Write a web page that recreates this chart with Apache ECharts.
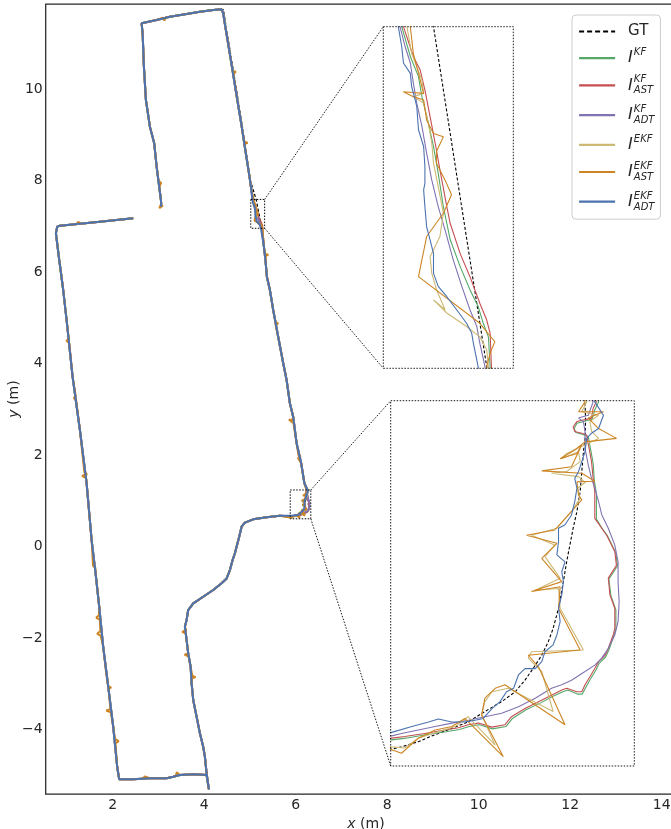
<!DOCTYPE html>
<html><head><meta charset="utf-8">
<script src="https://cdn.jsdelivr.net/npm/echarts@6/dist/echarts.min.js"></script>
<style>html,body{margin:0;padding:0;background:#fff}#c{width:671px;height:829px}</style>
</head><body><div id="c"></div><script>
// ---------- tick labels ----------
const X_TICKS = [2, 4, 6, 8, 10, 12, 14];
const Y_TICKS = [-4, -2, 0, 2, 4, 6, 8, 10];

// ---------- series names / legend ----------
const NAMES = ['GT', 'KF', 'KF_AST', 'KF_ADT', 'EKF', 'EKF_AST', 'EKF_ADT'];
const LABELS = {
  GT: '{g|GT}',
  KF: '{i|I}{p|KF}',
  KF_AST: '{i|I}{p0|KF}{b|AST}',
  KF_ADT: '{i|I}{p0|KF}{b|ADT}',
  EKF: '{i|I}{p|EKF}',
  EKF_AST: '{i|I}{p0|EKF}{b|AST}',
  EKF_ADT: '{i|I}{p0|EKF}{b|ADT}'
};
const COLORS = ['#000000', '#55A868', '#C44E52', '#8172B2', '#CCB974', '#CD8523', '#4C72B0'];

// ---------- trajectory (shared parts, metres) ----------
const BASE_A = [[3.054,7.432],[3.09,7.46],[3.03,7.41],[3.06,7.50],[3.054,7.578],[3.016,7.869],[2.960,8.306],[2.907,8.817],[2.813,9.180],[2.726,9.764],[2.682,10.492],[2.654,11.222],[2.632,11.440],[2.960,11.512],[3.250,11.585],[3.615,11.644],[3.906,11.694],[4.197,11.731],[4.380,11.747],[4.415,11.659],[4.461,11.366],[4.57,10.71],[4.70,9.91],[4.82,9.18],[4.91,8.599],[4.99,8.087],[5.03,7.80]];
const BASE_B = [[5.30,6.60],[5.34,6.25],[5.37,5.902],[5.436,5.611],[5.508,5.174],[5.617,4.590],[5.727,4.009],[5.801,3.644],[5.873,3.134],[5.945,2.842],[6.020,2.260],[6.12,1.823],[6.19,1.386]];
const BASE_C = [[5.655,0.678],[5.364,0.643],[5.071,0.599],[4.890,0.525],[4.817,0.437],[4.765,0.219],[4.708,0.000],[4.671,-0.144],[4.621,-0.291],[4.562,-0.511],[4.490,-0.693],[4.380,-0.800],[4.197,-0.946],[3.978,-1.093],[3.760,-1.237],[3.650,-1.384],[3.615,-1.603],[3.578,-1.749],[3.615,-2.039],[3.650,-2.330],[3.703,-2.623],[3.725,-2.986],[3.760,-3.350],[3.834,-3.716],[3.906,-4.079],[3.978,-4.372],[4.015,-4.590],[4.052,-4.953],[4.103,-5.303],[4.052,-4.990],[3.760,-4.975],[3.469,-4.990],[3.322,-5.027],[3.178,-5.062],[2.813,-5.062],[2.448,-5.084],[2.142,-5.084],[2.098,-4.809],[2.011,-3.934],[1.902,-3.060],[1.792,-2.186],[1.705,-1.311],[1.626,-0.581],[1.539,0.146],[1.430,1.386],[1.283,2.551],[1.123,3.716],[0.992,4.955],[0.918,5.611],[0.861,6.048],[0.831,6.267],[0.759,6.850],[0.787,6.995],[0.846,7.016],[1.720,7.104],[2.448,7.178]];
const GT_A = [[3.054,7.432],[3.054,7.578],[3.016,7.869],[2.960,8.306],[2.907,8.817],[2.813,9.180],[2.726,9.764],[2.682,10.492],[2.654,11.222],[2.632,11.440],[2.960,11.512],[3.250,11.585],[3.615,11.644],[3.906,11.694],[4.197,11.731],[4.42,11.74],[4.48,11.36],[4.59,10.7],[4.72,9.9],[4.84,9.15],[4.93,8.55],[5.01,8.0]];
const EKF_AST_A = [[3.054,7.432],[3.10,7.46],[3.02,7.40],[3.06,7.50],[3.054,7.578],[3.016,7.869],[3.06,7.95],[3.00,8.0],[2.960,8.306],[2.907,8.817],[2.813,9.180],[2.726,9.764],[2.682,10.492],[2.654,11.222],[2.632,11.440],[2.960,11.512],[3.10,11.56],[3.13,11.50],[3.16,11.57],[3.250,11.585],[3.615,11.644],[3.906,11.694],[4.197,11.731],[4.380,11.747],[4.415,11.659],[4.461,11.366],[4.57,10.71],[4.62,10.40],[4.69,10.38],[4.64,10.33],[4.70,9.91],[4.82,9.18],[4.87,8.85],[4.95,8.83],[4.88,8.80],[4.91,8.599],[4.99,8.087],[5.03,7.80]];
const EKF_AST_B = [[5.30,6.60],[5.33,6.40],[5.40,6.38],[5.34,6.35],[5.34,6.25],[5.37,5.902],[5.436,5.611],[5.508,5.174],[5.56,4.90],[5.62,4.88],[5.56,4.85],[5.617,4.590],[5.727,4.009],[5.801,3.644],[5.873,3.134],[5.945,2.842],[5.92,2.76],[5.85,2.78],[5.95,2.70],[6.020,2.260],[6.06,2.0],[6.11,1.97],[6.05,1.94],[6.12,1.823],[6.19,1.386]];
const EKF_AST_C = [[5.655,0.678],[5.364,0.643],[5.071,0.599],[4.890,0.525],[4.817,0.437],[4.765,0.219],[4.708,0.000],[4.671,-0.144],[4.621,-0.291],[4.562,-0.511],[4.490,-0.693],[4.380,-0.800],[4.197,-0.946],[3.978,-1.093],[3.760,-1.237],[3.650,-1.384],[3.615,-1.603],[3.578,-1.749],[3.60,-1.82],[3.52,-1.86],[3.60,-1.90],[3.615,-2.039],[3.650,-2.330],[3.57,-2.36],[3.66,-2.40],[3.703,-2.623],[3.74,-2.82],[3.81,-2.85],[3.73,-2.88],[3.725,-2.986],[3.760,-3.350],[3.834,-3.716],[3.906,-4.079],[3.978,-4.372],[4.015,-4.590],[4.052,-4.953],[4.103,-5.303],[4.052,-4.990],[3.760,-4.975],[3.469,-4.990],[3.40,-4.93],[3.38,-5.00],[3.322,-5.027],[3.178,-5.062],[2.813,-5.062],[2.70,-5.02],[2.66,-5.07],[2.448,-5.084],[2.142,-5.084],[2.098,-4.809],[2.06,-4.30],[2.13,-4.25],[2.05,-4.20],[2.011,-3.934],[1.96,-3.62],[1.86,-3.58],[1.95,-3.55],[1.91,-3.10],[1.97,-3.08],[1.90,-3.05],[1.85,-2.70],[1.792,-2.186],[1.74,-1.95],[1.66,-1.90],[1.73,-1.84],[1.72,-1.60],[1.64,-1.55],[1.70,-1.50],[1.705,-1.311],[1.626,-0.581],[1.62,-0.45],[1.57,-0.42],[1.61,-0.38],[1.539,0.146],[1.47,0.9],[1.430,1.386],[1.42,1.50],[1.33,1.55],[1.44,1.58],[1.38,1.63],[1.283,2.551],[1.20,3.2],[1.15,3.25],[1.19,3.3],[1.123,3.716],[1.05,4.45],[0.99,4.5],[1.04,4.55],[0.992,4.955],[0.918,5.611],[0.861,6.048],[0.831,6.267],[0.759,6.850],[0.787,6.995],[0.846,7.016],[1.2,7.05],[1.25,7.10],[1.3,7.06],[1.720,7.104],[2.448,7.178]];

// ---------- zoom region 1 (x 5.018..5.321, y 6.96..7.59) ----------
const GT_BOX1 = [[5.135,7.590],[5.259,6.963]];
const KF_BOX1 = [[5.061,7.590],[5.081,7.535],[5.100,7.498],[5.108,7.461],[5.123,7.412],[5.135,7.369],[5.146,7.320],[5.158,7.258],[5.174,7.197],[5.197,7.148],[5.220,7.105],[5.239,7.074],[5.251,7.043],[5.263,7.018],[5.267,6.963]];
const KF_AST_BOX1 = [[5.065,7.590],[5.088,7.535],[5.104,7.510],[5.115,7.473],[5.127,7.424],[5.139,7.375],[5.150,7.326],[5.166,7.258],[5.174,7.227],[5.197,7.172],[5.220,7.129],[5.243,7.080],[5.259,7.049],[5.267,7.025],[5.270,6.963]];
const KF_ADT_BOX1 = [[5.057,7.590],[5.069,7.553],[5.081,7.523],[5.088,7.486],[5.096,7.449],[5.108,7.406],[5.119,7.357],[5.131,7.307],[5.146,7.258],[5.162,7.215],[5.181,7.160],[5.201,7.111],[5.220,7.068],[5.236,7.037],[5.243,7.006],[5.255,6.963]];
const EKF_BOX1 = [[5.073,7.590],[5.084,7.541],[5.096,7.516],[5.108,7.492],[5.112,7.467],[5.088,7.461],[5.112,7.449],[5.123,7.412],[5.131,7.375],[5.135,7.338],[5.146,7.295],[5.158,7.246],[5.150,7.203],[5.135,7.178],[5.127,7.166],[5.131,7.135],[5.142,7.105],[5.162,7.068],[5.135,7.086],[5.166,7.062],[5.212,7.037],[5.243,7.018],[5.259,6.994],[5.263,6.963]];
const EKF_AST_BOX1 = [[5.081,7.590],[5.088,7.541],[5.100,7.504],[5.112,7.467],[5.065,7.470],[5.088,7.461],[5.112,7.455],[5.119,7.418],[5.135,7.393],[5.158,7.387],[5.142,7.360],[5.142,7.338],[5.162,7.307],[5.177,7.280],[5.158,7.246],[5.119,7.203],[5.100,7.129],[5.243,7.043],[5.278,7.009],[5.267,6.988],[5.259,6.963]];
const EKF_ADT_BOX1 = [[5.053,7.590],[5.061,7.553],[5.065,7.523],[5.081,7.504],[5.084,7.480],[5.096,7.443],[5.100,7.400],[5.112,7.369],[5.115,7.332],[5.115,7.301],[5.112,7.289],[5.115,7.258],[5.119,7.221],[5.127,7.197],[5.135,7.172],[5.135,7.135],[5.146,7.111],[5.166,7.092],[5.189,7.068],[5.212,7.043],[5.224,7.025],[5.228,7.006],[5.239,6.963]];

// ---------- zoom region 2 (x 5.88..6.33, y 0.61..1.24) ----------
const GT_BOX2 = [[6.239,1.238],[6.240,1.204],[6.239,1.175],[6.236,1.152],[6.233,1.118],[6.230,1.083],[6.224,1.049],[6.217,1.020],[6.211,0.991],[6.205,0.962],[6.199,0.928],[6.190,0.882],[6.180,0.847],[6.171,0.824],[6.159,0.801],[6.143,0.778],[6.128,0.758],[6.110,0.738],[6.085,0.721],[6.054,0.704],[6.023,0.686],[5.993,0.675],[5.962,0.664],[5.931,0.652],[5.900,0.643],[5.882,0.639]];
const KF_BOX2 = [[6.264,1.238],[6.257,1.224],[6.252,1.208],[6.224,1.201],[6.219,1.192],[6.222,1.185],[6.234,1.182],[6.245,1.178],[6.254,1.132],[6.256,1.103],[6.260,1.080],[6.260,1.036],[6.271,1.019],[6.281,1.006],[6.296,0.977],[6.299,0.955],[6.283,0.932],[6.287,0.903],[6.296,0.879],[6.296,0.846],[6.292,0.834],[6.283,0.810],[6.277,0.798],[6.265,0.787],[6.259,0.775],[6.249,0.760],[6.240,0.745],[6.234,0.734],[6.225,0.734],[6.207,0.741],[6.198,0.738],[6.179,0.730],[6.155,0.718],[6.130,0.707],[6.105,0.692],[6.093,0.678],[6.068,0.674],[6.044,0.681],[6.025,0.678],[6.007,0.673],[5.982,0.669],[5.945,0.664],[5.908,0.658],[5.882,0.655]];
const KF_AST_BOX2 = [[6.260,1.238],[6.254,1.227],[6.251,1.210],[6.224,1.204],[6.217,1.195],[6.220,1.187],[6.233,1.184],[6.242,1.181],[6.251,1.135],[6.254,1.106],[6.257,1.083],[6.257,1.037],[6.270,1.020],[6.279,1.008],[6.294,0.980],[6.297,0.956],[6.282,0.934],[6.285,0.905],[6.294,0.882],[6.294,0.847],[6.291,0.836],[6.282,0.813],[6.276,0.801],[6.264,0.790],[6.257,0.778],[6.248,0.764],[6.239,0.750],[6.233,0.738],[6.224,0.738],[6.205,0.744],[6.196,0.741],[6.177,0.732],[6.153,0.721],[6.128,0.709],[6.103,0.695],[6.091,0.681],[6.067,0.677],[6.042,0.684],[6.023,0.681],[6.005,0.676],[5.980,0.672],[5.943,0.666],[5.906,0.661],[5.882,0.658]];
const KF_ADT_BOX2 = [[6.254,1.238],[6.245,1.215],[6.233,1.212],[6.227,1.210],[6.236,1.204],[6.239,1.187],[6.239,1.158],[6.245,1.129],[6.251,1.106],[6.257,1.089],[6.264,1.066],[6.270,1.043],[6.282,1.020],[6.294,0.991],[6.300,0.962],[6.300,0.928],[6.302,0.893],[6.300,0.859],[6.294,0.836],[6.282,0.813],[6.270,0.796],[6.257,0.784],[6.239,0.773],[6.214,0.758],[6.196,0.750],[6.177,0.744],[6.147,0.727],[6.116,0.712],[6.085,0.701],[6.054,0.695],[6.023,0.689],[5.993,0.684],[5.962,0.678],[5.931,0.672],[5.900,0.666],[5.882,0.662]];
const EKF_BOX2 = [[6.242,1.238],[6.233,1.221],[6.264,1.215],[6.248,1.204],[6.251,1.187],[6.264,1.175],[6.239,1.164],[6.205,1.149],[6.195,1.140],[6.227,1.152],[6.230,1.135],[6.205,1.118],[6.177,1.115],[6.227,1.109],[6.239,1.099],[6.225,1.089],[6.230,1.072],[6.214,1.049],[6.187,1.020],[6.140,1.008],[6.183,0.991],[6.165,0.971],[6.193,0.934],[6.147,0.913],[6.190,0.916],[6.193,0.882],[6.236,0.810],[6.140,0.807],[6.134,0.796],[6.159,0.773],[6.180,0.704],[6.097,0.744],[6.067,0.738],[6.054,0.721],[6.048,0.698],[6.073,0.646],[6.023,0.695],[5.999,0.678],[5.968,0.669],[5.931,0.658],[5.906,0.641],[5.882,0.643]];
const EKF_AST_BOX2 = [[6.239,1.238],[6.227,1.221],[6.273,1.221],[6.245,1.210],[6.264,1.192],[6.297,1.175],[6.239,1.169],[6.220,1.155],[6.193,1.140],[6.224,1.149],[6.233,1.164],[6.214,1.126],[6.159,1.119],[6.233,1.115],[6.257,1.101],[6.224,1.100],[6.227,1.077],[6.233,1.069],[6.183,1.017],[6.131,1.008],[6.187,0.994],[6.159,0.968],[6.196,0.928],[6.140,0.911],[6.193,0.919],[6.190,0.882],[6.230,0.810],[6.134,0.801],[6.153,0.781],[6.202,0.681],[6.091,0.750],[6.073,0.744],[6.054,0.727],[6.048,0.698],[6.088,0.626],[6.017,0.692],[5.993,0.678],[5.962,0.672],[5.931,0.658],[5.900,0.632],[5.882,0.638]];
const EKF_ADT_BOX2 = [[6.257,1.238],[6.273,1.215],[6.264,1.192],[6.251,1.184],[6.242,1.175],[6.239,1.152],[6.233,1.135],[6.227,1.118],[6.220,1.106],[6.224,1.089],[6.220,1.066],[6.214,1.043],[6.202,1.026],[6.190,1.020],[6.190,0.997],[6.187,0.974],[6.202,0.962],[6.196,0.945],[6.199,0.928],[6.196,0.905],[6.190,0.882],[6.193,0.859],[6.187,0.836],[6.180,0.819],[6.165,0.807],[6.159,0.790],[6.147,0.778],[6.128,0.778],[6.116,0.767],[6.107,0.744],[6.094,0.738],[6.082,0.721],[6.067,0.709],[6.051,0.692],[6.036,0.689],[6.017,0.686],[5.993,0.686],[5.968,0.691],[5.950,0.686],[5.919,0.678],[5.882,0.668]];

const DATA = {
  GT: [...GT_A, ...GT_BOX1, ...BASE_B, ...GT_BOX2, ...BASE_C],
  KF: [...BASE_A, ...KF_BOX1, ...BASE_B, ...KF_BOX2, ...BASE_C],
  KF_AST: [...BASE_A, ...KF_AST_BOX1, ...BASE_B, ...KF_AST_BOX2, ...BASE_C],
  KF_ADT: [...BASE_A, ...KF_ADT_BOX1, ...BASE_B, ...KF_ADT_BOX2, ...BASE_C],
  EKF: [...BASE_A, ...EKF_BOX1, ...BASE_B, ...EKF_BOX2, ...BASE_C],
  EKF_AST: [...EKF_AST_A, ...EKF_AST_BOX1, ...EKF_AST_B, ...EKF_AST_BOX2, ...EKF_AST_C],
  EKF_ADT: [...BASE_A, ...EKF_ADT_BOX1, ...BASE_B, ...EKF_ADT_BOX2, ...BASE_C]
};

// ---------- layout ----------
const MAIN_X = [0.5355, 14.535], MAIN_Y = [-5.405, 11.862];
const BOX1_X = [5.018, 5.321], BOX1_Y = [6.960, 7.590];
const BOX2_X = [5.88, 6.33], BOX2_Y = [0.61, 1.24];
const MAIN_GRID = {left: 45.7, top: 4, width: 640.5, height: 790};
const INSET1 = {left: 383.3, top: 26.7, width: 130, height: 341.6};
const INSET2 = {left: 390.7, top: 400.7, width: 243.6, height: 365.3};
const FONT = 'DejaVu Sans';
const INK = '#262626';

const chart = echarts.init(document.getElementById('c'), null, {renderer: 'canvas'});
const minus = v => String(v).replace('-', '\u2212');

const series = [];
[0, 1, 2].forEach(g => {
  NAMES.forEach((n, i) => {
    const w = g === 0 ? (n === 'GT' ? 1.2 : 2.0) : 1.1;
    series.push({
      type: 'line', name: n, xAxisIndex: g, yAxisIndex: g,
      data: DATA[n], showSymbol: false, symbol: 'none', silent: true,
      clip: true, animation: false, z: 2,
      lineStyle: {color: COLORS[i], width: w, type: n === 'GT' ? [3, 2] : 'solid'},
      itemStyle: {color: COLORS[i]}
    });
  });
});

const hiddenAxis = (gi, r) => ({type: 'value', gridIndex: gi, min: r[0], max: r[1], show: false,
  splitLine: {show: false}, axisLine: {show: false}, axisTick: {show: false}, axisLabel: {show: false}});

const option = {
  animation: false,
  backgroundColor: '#ffffff',
  grid: [
    Object.assign({show: true, borderColor: INK, borderWidth: 1.25, backgroundColor: 'transparent', containLabel: false, outerBoundsMode: 'none'}, MAIN_GRID),
    Object.assign({show: false, containLabel: false, outerBoundsMode: 'none'}, INSET1),
    Object.assign({show: false, containLabel: false, outerBoundsMode: 'none'}, INSET2)
  ],
  xAxis: [
    {type: 'value', gridIndex: 0, min: MAIN_X[0], max: MAIN_X[1],
     axisLine: {show: false}, axisTick: {show: false}, splitLine: {show: false},
     axisLabel: {customValues: X_TICKS, formatter: minus, color: INK, fontSize: 14, fontFamily: FONT, margin: 4},
     name: '{it|x} (m)', nameLocation: 'middle', nameGap: 21,
     nameTextStyle: {color: INK, fontSize: 14, fontFamily: FONT, rich: {it: {fontStyle: 'italic', fontSize: 14, fontFamily: FONT, color: INK}}}},
    hiddenAxis(1, BOX1_X), hiddenAxis(2, BOX2_X)
  ],
  yAxis: [
    {type: 'value', gridIndex: 0, min: MAIN_Y[0], max: MAIN_Y[1],
     axisLine: {show: false}, axisTick: {show: false}, splitLine: {show: false},
     axisLabel: {customValues: Y_TICKS, formatter: minus, color: INK, fontSize: 14, fontFamily: FONT, margin: 3},
     name: '{it|y} (m)', nameLocation: 'middle', nameGap: 24, nameRotate: 90, nameMoveOverlap: false,
     nameTextStyle: {color: INK, fontSize: 14, fontFamily: FONT, rich: {it: {fontStyle: 'italic', fontSize: 14, fontFamily: FONT, color: INK}}}},
    hiddenAxis(1, BOX1_Y), hiddenAxis(2, BOX2_Y)
  ],
  legend: {
    orient: 'vertical', left: 572, top: 15,
    padding: [9, 6, 7, 6], itemGap: 8.7, itemWidth: 36, itemHeight: 14,
    backgroundColor: 'rgba(255,255,255,0.85)', borderColor: '#cccccc', borderWidth: 1, borderRadius: 4,
    selectedMode: false,
    lineStyle: {width: 2.2},
    itemStyle: {color: 'rgba(0,0,0,0)', borderWidth: 0, opacity: 0},
    data: NAMES.map(n => n === 'GT' ? {name: n, lineStyle: {type: [5, 3], width: 2.2}} : {name: n}),
    formatter: n => LABELS[n],
    textStyle: {
      color: INK, fontFamily: FONT, width: 40,
      rich: {
        g: {fontSize: 15, fontFamily: FONT, color: INK, lineHeight: 21, padding: [0, 0, 0, 8]},
        i: {fontSize: 16, fontFamily: FONT, fontStyle: 'italic', color: INK, lineHeight: 21, padding: [0, 1, 0, 8]},
        p: {fontSize: 10, fontFamily: FONT, fontStyle: 'italic', color: INK, lineHeight: 10, verticalAlign: 'top'},
        p0: {fontSize: 10, fontFamily: FONT, fontStyle: 'italic', color: INK, lineHeight: 10, verticalAlign: 'top', width: 0},
        b: {fontSize: 10, fontFamily: FONT, fontStyle: 'italic', color: INK, lineHeight: 10, verticalAlign: 'bottom'}
      }
    }
  },
  series: series
};
chart.setOption(option);

// ---------- zoom boxes, connectors and inset frames ----------
const toPx = p => chart.convertToPixel({gridIndex: 0}, p);
const dotted = {stroke: '#000', lineWidth: 0.9, lineDash: [1.5, 1.5], fill: null};
const graphics = [];
[[BOX1_X, BOX1_Y, INSET1], [BOX2_X, BOX2_Y, INSET2]].forEach(([bx, by, ins]) => {
  const tl = toPx([bx[0], by[1]]), br = toPx([bx[1], by[0]]);
  graphics.push({type: 'rect', z: 100, silent: true,
    shape: {x: tl[0], y: tl[1], width: br[0] - tl[0], height: br[1] - tl[1]}, style: Object.assign({}, dotted, {lineWidth: 1})});
  graphics.push({type: 'rect', z: 100, silent: true,
    shape: {x: ins.left, y: ins.top, width: ins.width, height: ins.height}, style: Object.assign({}, dotted)});
  graphics.push({type: 'line', z: 100, silent: true,
    shape: {x1: br[0], y1: tl[1], x2: ins.left, y2: ins.top}, style: Object.assign({}, dotted)});
  graphics.push({type: 'line', z: 100, silent: true,
    shape: {x1: br[0], y1: br[1], x2: ins.left, y2: ins.top + ins.height}, style: Object.assign({}, dotted)});
});
chart.setOption({graphic: graphics});
</script></body></html>
